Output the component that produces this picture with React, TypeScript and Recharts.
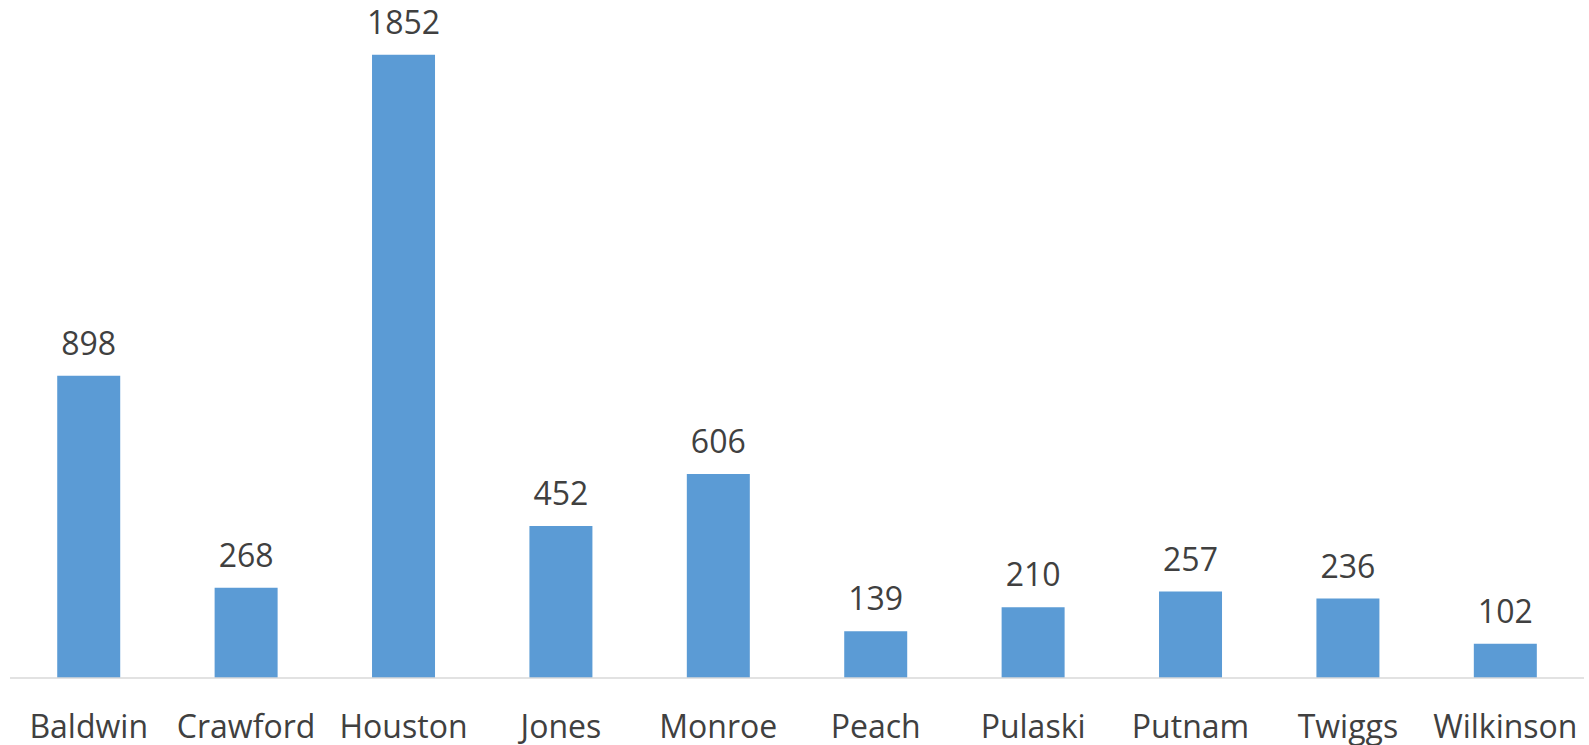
import React from 'react';
import { BarChart, Bar, XAxis, YAxis, LabelList } from 'recharts';

const counties = ['Baldwin', 'Crawford', 'Houston', 'Jones', 'Monroe', 'Peach', 'Pulaski', 'Putnam', 'Twiggs', 'Wilkinson'];
const totals = [898, 268, 1852, 452, 606, 139, 210, 257, 236, 102];

const data = counties.map((name, i) => ({ name, total: totals[i] }));

const FONT = '"Open Sans", sans-serif';

export default function App() {
  return (
    <div style={{ position: 'absolute', left: 0, top: 0, width: 1589, height: 745, background: '#fff' }}>
      <BarChart
        width={1589}
        height={745}
        data={data}
        margin={{ top: 5, right: 5, bottom: 0, left: 10 }}
        barCategoryGap="30%"
      >
        <XAxis
          dataKey="name"
          height={67}
          axisLine={{ stroke: '#d9d9d9', strokeWidth: 1.5 }}
          tickLine={false}
          tickSize={0}
          tickMargin={37}
          interval={0}
          tick={{ fill: '#404040', fontSize: 32, fontFamily: FONT }}
        />
        <YAxis hide domain={[0, 2000]} />
        <Bar dataKey="total" fill="#5b9bd5" isAnimationActive={false}>
          <LabelList
            dataKey="total"
            position="top"
            offset={21}
            fill="#404040"
            fontSize={32}
            fontFamily={FONT}
          />
        </Bar>
      </BarChart>
    </div>
  );
}
